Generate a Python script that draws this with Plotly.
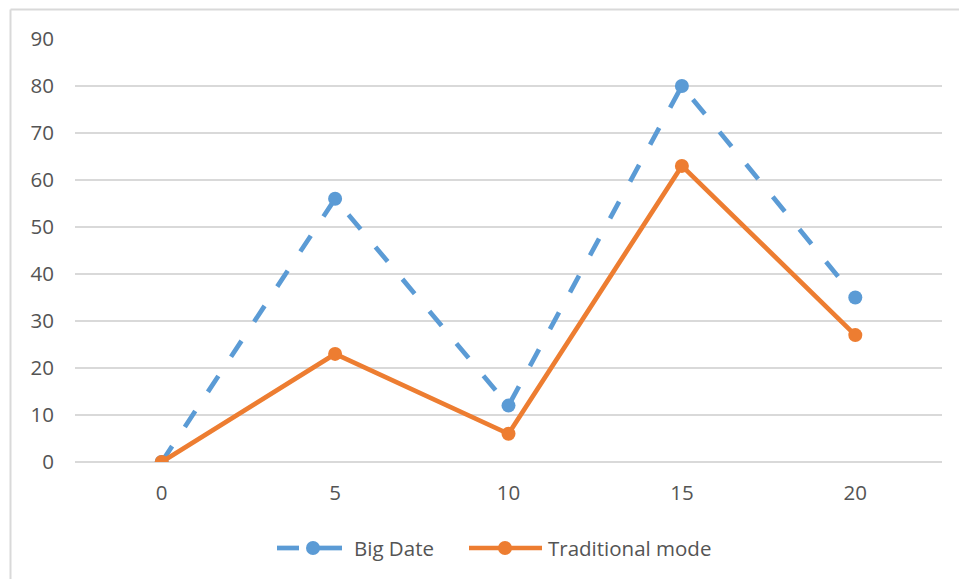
import plotly.graph_objects as go

# Data series
categories = ["0", "5", "10", "15", "20"]
big_date = [0, 56, 12, 80, 35]
traditional_mode = [0, 23, 6, 63, 27]
y_ticks = [0, 10, 20, 30, 40, 50, 60, 70, 80, 90]
series_names = ["Big Date", "Traditional mode"]

BLUE = "#5B9BD5"
ORANGE = "#ED7D31"
GRID = "#D9D9D9"
TEXT = "#545454"
FONT = "Open Sans"

W, H = 959, 579
L, R, T, B = 75, 17, 39, 117
PW, PH = W - L - R, H - T - B


def px_x(p):
    return (p - L) / PW


def px_y(p):
    return (H - B - p) / PH


fig = go.Figure()
fig.add_trace(go.Scatter(
    x=categories, y=big_date, name=series_names[0], mode="lines+markers",
    line=dict(color=BLUE, width=4.7, dash="19px,23px"),
    marker=dict(color=BLUE, size=14),
))
fig.add_trace(go.Scatter(
    x=categories, y=traditional_mode, name=series_names[1], mode="lines+markers",
    line=dict(color=ORANGE, width=4.7),
    marker=dict(color=ORANGE, size=14),
))

# chart frame (top and left edges)
frame = dict(type="line", xref="paper", yref="paper", layer="below",
             line=dict(color=GRID, width=2))
fig.add_shape(**frame, x0=px_x(10.5), x1=px_x(960), y0=px_y(9.5), y1=px_y(9.5))
fig.add_shape(**frame, x0=px_x(10.5), x1=px_x(10.5), y0=px_y(9.5), y1=px_y(582))

# legend below the plot: line sample, marker, label
LEG_Y = px_y(548)


def legend_entry(segments, marker_x, text_x, color, name, dash=None):
    for a, b in segments:
        fig.add_shape(type="line", xref="paper", yref="paper",
                      x0=px_x(a), x1=px_x(b), y0=LEG_Y, y1=LEG_Y,
                      line=dict(color=color, width=4.7, dash=dash))
    r = 7
    fig.add_shape(type="circle", xref="paper", yref="paper",
                  x0=px_x(marker_x - r), x1=px_x(marker_x + r),
                  y0=LEG_Y - r / PH, y1=LEG_Y + r / PH,
                  fillcolor=color, line=dict(color=color, width=0))
    fig.add_annotation(xref="paper", yref="paper", x=px_x(text_x), y=LEG_Y,
                       xanchor="left", yanchor="middle", text=name, showarrow=False,
                       font=dict(family=FONT, size=20.5, color=TEXT))


legend_entry([(277, 299), (313, 342)], 313, 352, BLUE, series_names[0])
legend_entry([(469, 542)], 505, 546, ORANGE, series_names[1])

fig.update_layout(
    width=W, height=H,
    margin=dict(l=L, r=R, t=T, b=B, pad=0),
    paper_bgcolor="white", plot_bgcolor="white",
    font=dict(family=FONT, size=20, color=TEXT),
    hovermode=False,
    showlegend=False,
    xaxis=dict(type="category", range=[-0.5, 4.5], showgrid=False, zeroline=False,
               showline=False, ticks="", ticklabelstandoff=16,
               tickfont=dict(family=FONT, size=20.5, color=TEXT)),
    yaxis=dict(range=[0, 90], tickvals=y_ticks, showgrid=True, gridcolor=GRID, gridwidth=1.6,
               zeroline=True, zerolinecolor=GRID, zerolinewidth=1.6, showline=False,
               ticks="", ticklabelstandoff=20,
               tickfont=dict(family=FONT, size=20.5, color=TEXT)),
)

fig.write_html("out.html", config={"displayModeBar": False})
